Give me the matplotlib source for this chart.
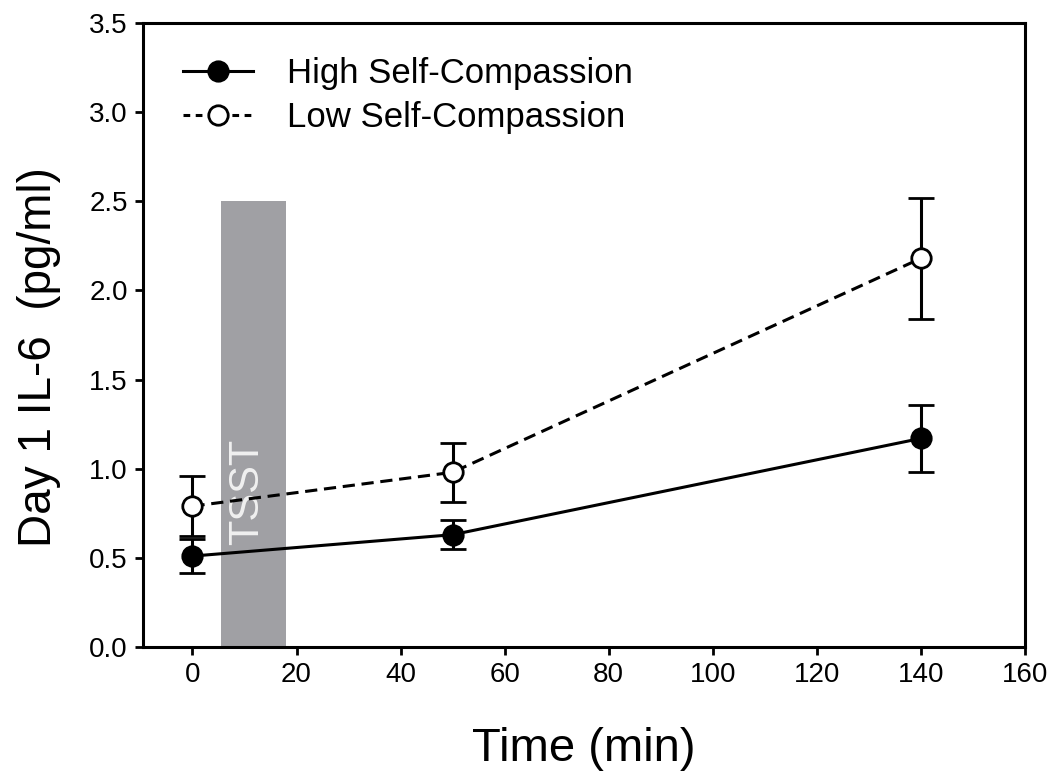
import numpy as np
import matplotlib
matplotlib.use('Agg')
import matplotlib.pyplot as plt
from matplotlib.lines import Line2D

plt.rcParams['font.family'] = ['Liberation Sans', 'DejaVu Sans']

# data
time_min = [0, 50, 140]
high_mean = [0.51, 0.63, 1.17]
high_err = [0.097, 0.08, 0.187]
low_mean = [0.79, 0.98, 2.18]
low_err = [0.17, 0.165, 0.34]
tsst_start, tsst_end, tsst_height = 5.5, 18.0, 2.5
x_ticks = [0, 20, 40, 60, 80, 100, 120, 140, 160]
y_ticks = [0.0, 0.5, 1.0, 1.5, 2.0, 2.5, 3.0, 3.5]

fig = plt.figure(figsize=(10.5, 7.77), dpi=100)
ax = fig.add_axes([0.1362, 0.1673, 0.84, 0.8031])

# TSST stress period bar
ax.bar((tsst_start + tsst_end) / 2, tsst_height, width=tsst_end - tsst_start,
       color='#a0a0a4', zorder=1)
ax.text(10.5, 0.87, 'TSST', rotation=90, color='#f0f0f0', fontsize=30,
        ha='center', va='center', zorder=2)

lw = 2.2
ax.errorbar(time_min, high_mean, yerr=high_err, color='black', lw=lw,
            marker='o', ms=14, mfc='black', mec='black', mew=2,
            capsize=9.5, capthick=lw, elinewidth=lw, zorder=4)
ax.errorbar(time_min, low_mean, yerr=low_err, color='black', lw=lw,
            ls=(0, (4, 2.2)), marker='o', ms=14, mfc='white', mec='black',
            mew=2, capsize=9.5, capthick=lw, elinewidth=lw, zorder=3)

ax.set_xlim(-9.5, 160)
ax.set_ylim(0, 3.5)
ax.set_xticks(x_ticks)
ax.set_yticks(y_ticks)
ax.set_yticklabels(['%.1f' % v for v in y_ticks])

for s in ax.spines.values():
    s.set_linewidth(2.2)
ax.tick_params(direction='out', length=6, width=2, labelsize=20, pad=5)

ax.set_xlabel('Time (min)', fontsize=34, labelpad=28)
ax.set_ylabel('Day 1 IL-6  (pg/ml)', fontsize=33, labelpad=20)
ax.yaxis.label.set_y(0.465)

handles = [
    Line2D([], [], color='black', lw=lw, marker='o', ms=14, mfc='black', mew=2),
    Line2D([], [], color='black', lw=lw, ls=(0, (2.2, 1.8)), marker='o', ms=14,
           mfc='white', mew=2),
]
ax.legend(handles, ['High Self-Compassion', 'Low Self-Compassion'],
          loc='upper left', bbox_to_anchor=(0.01, 0.995), frameon=False,
          fontsize=25, handlelength=2.0, handletextpad=1.0,
          labelspacing=0.3)

fig.savefig('out.png', dpi=100)
